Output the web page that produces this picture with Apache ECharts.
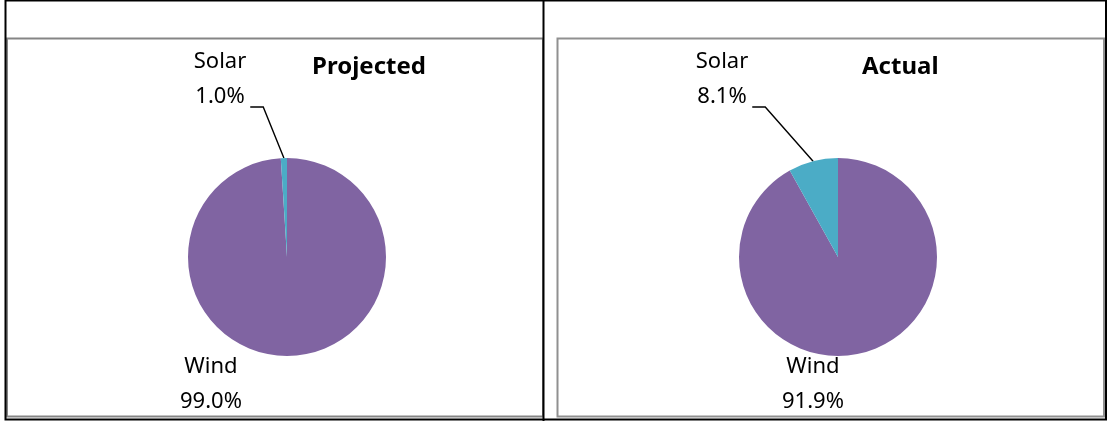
<!DOCTYPE html>
<html><head><meta charset="utf-8">
<script src="https://cdn.jsdelivr.net/npm/echarts@6/dist/echarts.min.js"></script>
<style>html,body{margin:0;padding:0;background:#fff}#c{width:1110px;height:421px}</style>
</head><body><div id="c"></div>
<script>
const categories = ['Wind', 'Solar'];
const projectedValues = [99.0, 1.0];
const actualValues = [91.9, 8.1];
const chartTitles = ['Projected', 'Actual'];
const sliceColors = ['#8064A2', '#4BACC6'];

const FONT = 'Noto Sans';
const panels = [
  { values: projectedValues, title: chartTitles[0], center: [287, 257], titleLeft: 312,
    labelPos: [{ x: 211, y: 349 }, { x: 220, y: 44.5 }] },
  { values: actualValues, title: chartTitles[1], center: [838, 257], titleLeft: 862,
    labelPos: [{ x: 813, y: 349 }, { x: 722, y: 44.5 }] }
];

const chart = echarts.init(document.getElementById('c'), null, { renderer: 'canvas' });

const series = panels.map((p, si) => ({
  type: 'pie',
  center: p.center,
  radius: 99,
  startAngle: 90,
  clockwise: true,
  avoidLabelOverlap: false,
  percentPrecision: 1,
  silent: true,
  itemStyle: { borderWidth: 0 },
  label: {
    show: true,
    position: 'outside',
    formatter: (d) => d.name + '\n' + d.percent.toFixed(1) + '%',
    fontFamily: FONT,
    fontSize: 22,
    lineHeight: 35,
    color: '#000',
    align: 'center'
  },
  labelLine: { show: true, lineStyle: { color: '#000', width: 1.4 } },
  labelLayout: (params) => {
    const pos = p.labelPos[params.dataIndex];
    const w = params.labelRect.width;
    const res = { x: pos.x, y: pos.y, align: 'center', verticalAlign: 'top' };
    if (params.dataIndex === 1 && params.labelLinePoints) {
      const right = pos.x + w / 2;
      const ly = 107;
      const edge = params.labelLinePoints[0];
      res.labelLinePoints = [[edge[0], edge[1]], [right + 17, ly], [right + 4, ly]];
    }
    return res;
  },
  data: categories.map((c, i) => ({
    name: c,
    value: p.values[i],
    itemStyle: { color: sliceColors[i] },
    labelLine: { show: i === 1 }
  }))
}));

const titles = panels.map(p => ({
  text: p.title,
  left: p.titleLeft,
  top: 55,
  padding: 0,
  textStyle: { fontFamily: FONT, fontSize: 24, fontWeight: 'bold', color: '#000', lineHeight: 24 }
}));

const graphic = [
  { type: 'rect', shape: { x: 7, y: 38.5, width: 536, height: 378 }, style: { fill: 'none', stroke: '#858585', lineWidth: 2 }, z: 1 },
  { type: 'rect', shape: { x: 557.5, y: 38.5, width: 546.5, height: 378 }, style: { fill: 'none', stroke: '#909090', lineWidth: 2 }, z: 1 },
  { type: 'rect', shape: { x: 5.5, y: 0.5, width: 1100.5, height: 419 }, style: { fill: 'none', stroke: '#000', lineWidth: 2 }, z: 2 },
  { type: 'line', shape: { x1: 543.5, y1: 0, x2: 543.5, y2: 421 }, style: { stroke: '#000', lineWidth: 2 }, z: 2 }
];

chart.setOption({
  animation: false,
  backgroundColor: '#fff',
  title: titles,
  graphic: graphic,
  series: series
});
</script>
</body></html>
